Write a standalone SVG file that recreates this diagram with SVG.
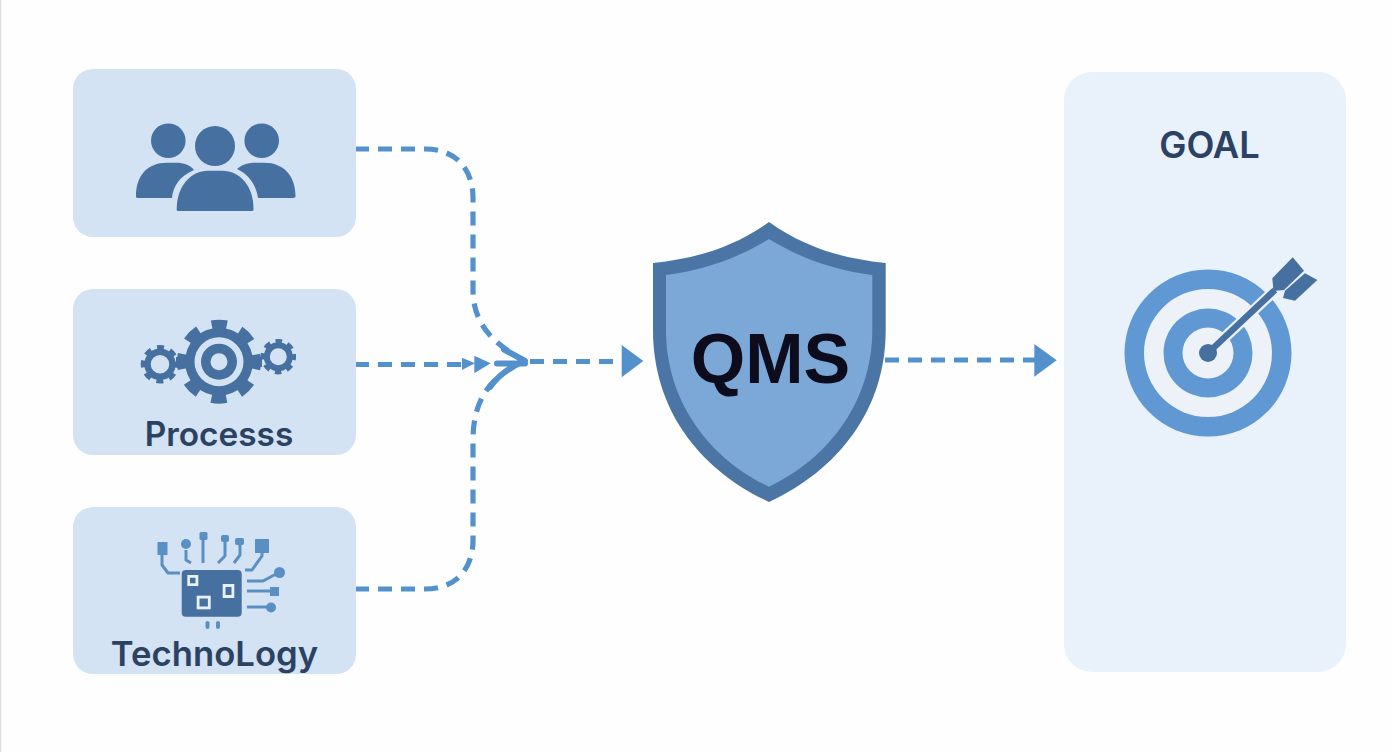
<svg xmlns="http://www.w3.org/2000/svg" width="1392" height="752" viewBox="0 0 1392 752">
<style>
.card{fill:#d3e3f4}
.ico{fill:#46709f}
.lbl{font-family:"Inter","Liberation Sans",sans-serif;font-weight:600;fill:#2b4263;text-anchor:middle}
.flow{fill:none;stroke:#5391cc;stroke-width:5.200;stroke-dasharray:14 9;stroke-linejoin:round}
.solid{fill:none;stroke:#5391cc;stroke-width:6;stroke-linecap:round}
.head{fill:#5391cc}
.pin{fill:none;stroke:#5a8fc4;stroke-width:3;stroke-linejoin:round}
.pad{fill:#5a8fc4}
.chipw{fill:#e9f0f8}
.chipd{fill:#46709f}
</style>
<rect width="1392" height="752" fill="#fefefe"/>
<rect x="0" y="0" width="1.2" height="752" fill="#dcdfe3"/>
<g id="connectors">
<path class="flow" d="M355 149H425C455 149 473 168 473 198V290C473 325 495 345 525 361"/>
<path class="flow" d="M355 364.500H465"/>
<path class="flow" d="M355 589H425C455 589 473 570 473 540V440C473 400 490 376 525 361"/>
<path class="flow" d="M530 361.500H625"/>
<path class="flow" d="M885 360H1036"/>
<path class="solid" d="M497 363.500H525M504 349.500L525 361M490 387C500 373 512 366 525 361"/>
<polygon class="head" points="462,357.700 475,363.300 462,370"/>
<polygon class="head" points="474.300,355.700 490.700,363.300 474.300,373.300"/>
<polygon class="head" points="621.700,345 643.300,361 621.700,377.300"/>
<polygon class="head" points="1034.300,344 1056.700,360.300 1034.300,376.700"/>
</g>
<g id="people">
<rect class="card" x="73" y="69" width="283" height="168" rx="20"/>
<circle class="ico" cx="168.300" cy="140.700" r="17.300"/>
<circle class="ico" cx="261.700" cy="140.700" r="17.300"/>
<path class="ico" d="M136 196C136 176 147 162.700 167 162.700H176C184 162.700 190 165 194 170C180 176 173 186 172 198H138C136 198 136 197 136 196Z"/>
<path class="ico" d="M295.500 196C295.500 176 284 162.700 264 162.700H255C247 162.700 241 165 237 169C248 174 256 184 258 198H293C295 198 295.500 197 295.500 196Z"/>
<circle class="ico" cx="215" cy="146" r="20"/>
<path class="ico" d="M176.700 209C176.700 186 191 170.700 208 170.700H222C240 170.700 253.500 186 253.500 209C253.500 210.500 253 211 251.500 211H178.500C177 211 176.700 210.500 176.700 209Z"/>
</g>
<g id="process">
<rect class="card" x="73" y="289" width="283" height="166" rx="20"/>
<rect class="ico" x="176" y="357" width="86" height="10"/>
<circle cx="219" cy="361.700" r="37" fill="none" stroke="#46709f" stroke-width="10" stroke-dasharray="15 14.060" stroke-dashoffset="7.500"/>
<circle class="ico" cx="219" cy="361.700" r="34"/>
<circle cx="219" cy="361.700" r="24.500" fill="#d3e3f4"/>
<circle class="ico" cx="219" cy="361.700" r="18"/>
<circle cx="219" cy="361.700" r="8.500" fill="#d3e3f4"/>
<circle cx="160" cy="364.300" r="17" fill="none" stroke="#46709f" stroke-width="4.500" stroke-dasharray="7 6.350" stroke-dashoffset="3.500"/>
<circle cx="160" cy="364.300" r="12.500" fill="none" stroke="#46709f" stroke-width="6.500"/>
<circle cx="278.300" cy="356.700" r="15.500" fill="none" stroke="#46709f" stroke-width="4.500" stroke-dasharray="6.500 5.670" stroke-dashoffset="3.200"/>
<circle cx="278.300" cy="356.700" r="11.500" fill="none" stroke="#46709f" stroke-width="6"/>
<text class="lbl" x="219" y="446" font-size="33.400">Processs</text>
</g>
<g id="technology">
<rect class="card" x="73" y="507" width="283" height="167" rx="20"/>
<rect class="ico" x="181.700" y="570" width="60" height="46.700" rx="4"/>
<rect class="chipw" x="187.300" y="575" width="11" height="11"/>
<rect class="chipd" x="190" y="577.800" width="5.500" height="5.500"/>
<rect class="chipw" x="222.700" y="584" width="11.600" height="14"/>
<rect class="chipd" x="225.500" y="587" width="6" height="8"/>
<rect class="chipw" x="196.700" y="595.700" width="14" height="13.600"/>
<rect class="chipd" x="199.500" y="598.500" width="8.400" height="8"/>
<path class="pin" d="M162 552V565L168 573H180"/>
<path class="pin" d="M186 550V560L191 563"/>
<path class="pin" d="M203 537V563"/>
<path class="pin" d="M225 540V556L218 563"/>
<path class="pin" d="M240 543V555L234 563"/>
<path class="pin" d="M262 545V556L252 570H245"/>
<path class="pin" d="M247 581H263L278 573"/>
<path class="pin" d="M247 591H272"/>
<path class="pin" d="M247 607H270"/>
<rect class="pad" x="157.500" y="542" width="10" height="13"/>
<circle class="pad" cx="186" cy="544" r="5"/>
<rect class="pad" x="199.500" y="532" width="8" height="8" rx="1.500"/>
<rect class="pad" x="221" y="535" width="8" height="7" rx="2"/>
<rect class="pad" x="235" y="538" width="9" height="7" rx="2"/>
<rect class="pad" x="255" y="539" width="14" height="14"/>
<circle class="pad" cx="279.500" cy="572.500" r="5.500"/>
<rect class="pad" x="270" y="587" width="9" height="9"/>
<circle class="pad" cx="271" cy="607.500" r="5"/>
<rect class="pad" x="205.500" y="621" width="4" height="8" rx="2"/>
<rect class="pad" x="216" y="621" width="4" height="8" rx="2"/>
<text class="lbl" x="214.500" y="666" font-size="34.700">TechnoLogy</text>
</g>
<g id="qms">
<path fill="#4a75a5" d="M769 222C735 246 700 258 653 263V330C653 410 700 470 769 502C838 470 885.700 410 885.700 330V263C838 258 803 246 769 222Z"/>
<path fill="#7ba8d6" d="M769 239C738 258 705 270 666 275V330C666 400 708 458 769 486.700C830 458 872.300 400 872.300 330V275C833 270 800 258 769 239Z"/>
<text x="770.500" y="382.700" font-family="Liberation Sans,Arial,sans-serif" font-weight="700" font-size="70" fill="#0c0c1c" text-anchor="middle">QMS</text>
</g>
<g id="goal">
<rect x="1064" y="72" width="282" height="600" rx="28" fill="#e9f1fb"/>
<text class="lbl" x="1209.500" y="157.500" font-size="36.300">GOAL</text>
<circle cx="1208" cy="353" r="83.500" fill="#5f98d2"/>
<circle cx="1208" cy="353" r="64" fill="#edf2f9"/>
<circle cx="1208" cy="353" r="44.500" fill="#5f98d2"/>
<circle cx="1208" cy="353" r="25.500" fill="#edf2f9"/>
<path d="M1208 353L1272 293" stroke="#edf2f9" stroke-width="11" fill="none"/>
<path d="M1208 353L1275 290" stroke="#46709f" stroke-width="6.500" fill="none"/>
<circle cx="1208" cy="353" r="9" fill="#46709f"/>
<polygon fill="#46709f" points="1272.300,278.300 1292.700,257.300 1304,270.700 1284,290 1273.500,291"/>
<polygon fill="#46709f" points="1285,290.700 1305,273.300 1317.300,280 1295,300.700 1283,298"/>
</g>
</svg>
